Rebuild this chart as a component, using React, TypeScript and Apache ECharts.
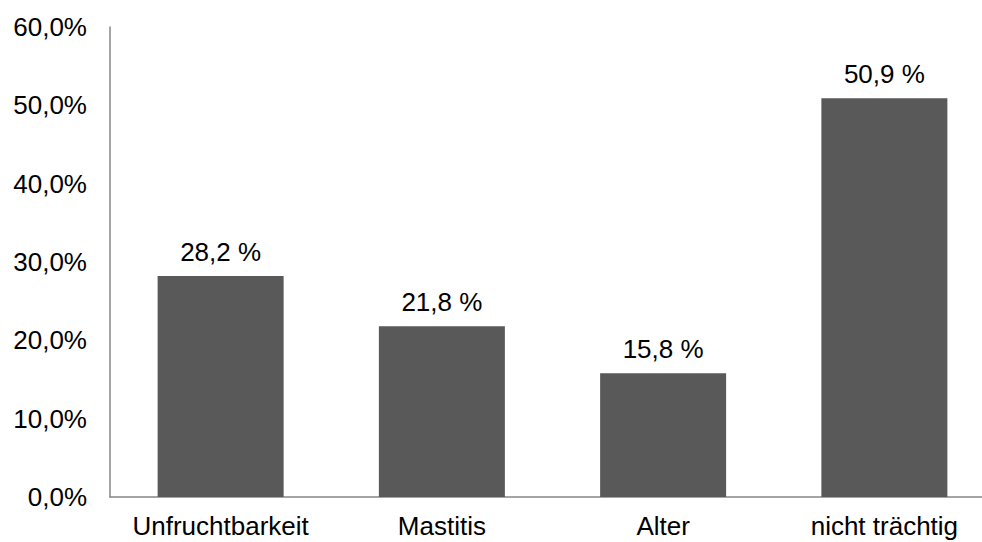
import React, { useEffect, useRef } from "react";
import * as echarts from "echarts";

const categories = ["Unfruchtbarkeit", "Mastitis", "Alter", "nicht trächtig"];
const shares = [28.2, 21.8, 15.8, 50.9];
const yTicks = { min: 0, max: 60, interval: 10 };

const FONT = "'Liberation Sans', Arial, sans-serif";
const AXIS_COLOR = "#868686";

const fmtComma = (v: number) => v.toFixed(1).replace(".", ",");

export default function App() {
  const ref = useRef<HTMLDivElement>(null);

  useEffect(() => {
    if (!ref.current) return;
    const chart = echarts.init(ref.current, undefined, { renderer: "svg" });
    chart.setOption({
      animation: false,
      backgroundColor: "#ffffff",
      // the plot runs a little past the visible right edge
      grid: { left: 110, top: 27, width: 885, height: 470, containLabel: false },
      xAxis: {
        type: "category",
        data: categories,
        axisLine: { show: true, lineStyle: { color: AXIS_COLOR, width: 1.5 } },
        axisTick: { show: false },
        axisLabel: {
          color: "#000",
          fontSize: 26,
          fontFamily: FONT,
          margin: 16,
          interval: 0,
          hideOverlap: false,
        },
      },
      yAxis: {
        type: "value",
        min: yTicks.min,
        max: yTicks.max,
        interval: yTicks.interval,
        axisLine: { show: true, lineStyle: { color: AXIS_COLOR, width: 1.5 } },
        axisTick: { show: false },
        splitLine: { show: false },
        axisLabel: {
          color: "#000",
          fontSize: 26,
          fontFamily: FONT,
          margin: 23,
          formatter: (v: number) => fmtComma(v) + "%",
        },
      },
      series: [
        {
          type: "bar",
          data: shares,
          barWidth: 126,
          itemStyle: { color: "#595959" },
          label: {
            show: true,
            position: "top",
            distance: 11,
            color: "#000",
            fontSize: 26,
            fontFamily: FONT,
            formatter: (p: any) => fmtComma(p.value) + " %",
          },
        },
      ],
    });
    return () => chart.dispose();
  }, []);

  return (
    <div
      style={{
        position: "fixed",
        left: 0,
        top: 0,
        width: 982,
        height: 542,
        overflow: "hidden",
        background: "#fff",
      }}
    >
      <div ref={ref} style={{ width: 1000, height: 542 }} />
    </div>
  );
}
